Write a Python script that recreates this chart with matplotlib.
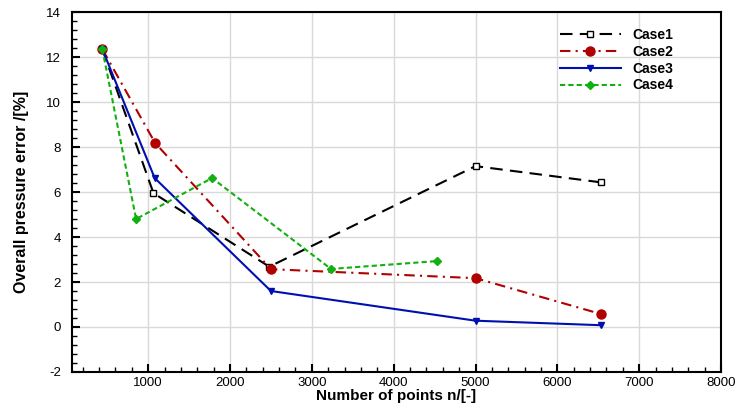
import numpy as np
import matplotlib
matplotlib.use("Agg")
import matplotlib.pyplot as plt
from matplotlib.ticker import MultipleLocator

plt.rcParams["font.family"] = ["Liberation Sans", "DejaVu Sans"]
plt.rcParams["axes.unicode_minus"] = False

# Data
case1_n = [440, 1065, 2480, 5000, 6530]
case1_e = [12.35, 5.95, 2.68, 7.15, 6.43]

case2_n = [440, 1085, 2500, 5000, 6530]
case2_e = [12.35, 8.18, 2.57, 2.17, 0.58]

case3_n = [440, 1080, 2500, 5000, 6530]
case3_e = [12.35, 6.62, 1.60, 0.28, 0.08]

case4_n = [440, 853, 1781, 3234, 4530]
case4_e = [12.35, 4.80, 6.62, 2.58, 2.93]

fig = plt.figure(figsize=(7.35, 4.07), dpi=100)
ax = fig.add_axes([0.098, 0.086, 0.883, 0.8845])

ax.plot(case1_n, case1_e, color="black", lw=1.5, dashes=(6, 3.5),
        marker="s", ms=5, mfc="white", mec="black", mew=1.0, label="Case1")
ax.plot(case2_n, case2_e, color="#b00000", lw=1.5, dashes=(5, 2.5, 1, 2.5),
        marker="o", ms=6.5, mfc="#b00000", mec="#b00000", label="Case2")
ax.plot(case3_n, case3_e, color="#0010b0", lw=1.5, ls="-",
        marker="v", ms=5, mfc="#0010b0", mec="#0010b0", label="Case3")
ax.plot(case4_n, case4_e, color="#10b010", lw=1.5, dashes=(2.5, 1.5),
        marker="D", ms=4.5, mfc="#10b010", mec="#10b010", label="Case4")

ax.set_xlim(70, 8000)
ax.set_ylim(-2, 14)
ax.xaxis.set_major_locator(MultipleLocator(1000))
ax.xaxis.set_minor_locator(MultipleLocator(200))
ax.yaxis.set_major_locator(MultipleLocator(2))
ax.yaxis.set_minor_locator(MultipleLocator(0.4))
ax.set_xticks([1000, 2000, 3000, 4000, 5000, 6000, 7000, 8000])

ax.grid(True, which="major", color="#d9d9d9", lw=1.0)
ax.set_axisbelow(True)
ax.tick_params(which="both", direction="in", top=False, right=False, labelsize=9.5)
ax.tick_params(which="major", length=6, width=1.5)
ax.tick_params(which="minor", length=3.5, width=1.0)
ax.tick_params(axis="y", which="major", pad=8)
for s in ax.spines.values():
    s.set_linewidth(1.5)

ax.set_xlabel("Number of points n/[-]", fontsize=11, fontweight="bold", labelpad=0)
ax.set_ylabel("Overall pressure error /[%]", fontsize=11.5, fontweight="bold", labelpad=12)

leg = ax.legend(loc="upper right", frameon=False, handlelength=4.4,
                prop={"weight": "bold", "size": 10}, labelspacing=0.2,
                bbox_to_anchor=(0.945, 0.99))

fig.savefig("out.png", dpi=100)
